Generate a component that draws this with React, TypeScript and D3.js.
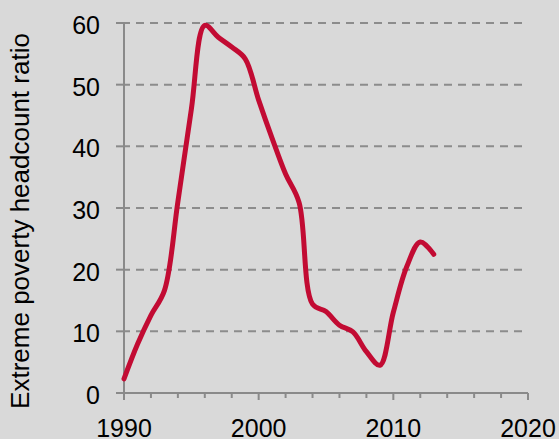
import * as d3 from "d3";

// values
const years = [
  1990, 1991, 1992, 1993, 1994, 1995, 1996, 1997, 1998, 1999, 2000, 2001,
  2002, 2003, 2004, 2005, 2006, 2007, 2008, 2009, 2010, 2011, 2012, 2013,
];
const ratio = [
  2.3, 7.9, 12.6, 16.6, 31.0, 46.0, 59.6, 57.7, 56.1, 54.2, 47.5, 41.3,
  35.5, 30.9, 14.4, 13.2, 11.0, 9.9, 6.7, 4.5, 13.1, 20.5, 24.5, 22.5,
];
const yTicks = [0, 10, 20, 30, 40, 50, 60];
const xMajorTicks = [1990, 2000, 2010, 2020];
const xMinorTicks = d3.range(1990, 2021, 2);
const yTitle = "Extreme poverty headcount ratio";

const W = 559;
const H = 439;
const font = "'Liberation Sans', Arial, sans-serif";
const axisColor = "#8a8a8a";

export default function App() {
  const x = d3.scaleLinear().domain([1990, 2020]).range([124, 528]);
  const y = d3.scaleLinear().domain([0, 60]).range([393, 23]);

  const points = years.map((yr, i) => ({ yr, v: ratio[i] }));
  const line = d3
    .line<{ yr: number; v: number }>()
    .x((d) => x(d.yr))
    .y((d) => y(d.v))
    .curve(d3.curveCatmullRom.alpha(0.5));

  return (
    <svg
      width={W}
      height={H}
      style={{ position: "absolute", left: 0, top: 0, display: "block" }}
      fontFamily={font}
    >
      <rect width={W} height={H} fill="#d9d9d9" />

      {/* dashed gridlines */}
      {yTicks
        .filter((t) => t > 0)
        .map((t) => (
          <line
            key={"g" + t}
            x1={x(1990)}
            x2={x(2020)}
            y1={y(t)}
            y2={y(t)}
            stroke="#8c8c8c"
            strokeWidth={2}
            strokeDasharray="8,6"
            strokeDashoffset={2}
          />
        ))}

      {/* y axis */}
      <line x1={x(1990)} x2={x(1990)} y1={y(60) - 1} y2={y(0) + 7} stroke={axisColor} strokeWidth={2} />
      {yTicks.map((t) => (
        <g key={"y" + t}>
          <line x1={x(1990) - 8} x2={x(1990)} y1={y(t)} y2={y(t)} stroke={axisColor} strokeWidth={2} />
          <text
            x={100}
            y={y(t) + 2}
            textAnchor="end"
            dominantBaseline="central"
            fontSize={25}
            fill="#000"
          >
            {t}
          </text>
        </g>
      ))}

      {/* x axis */}
      <line x1={x(1990)} x2={x(2020)} y1={y(0)} y2={y(0)} stroke={axisColor} strokeWidth={2} />
      {xMinorTicks.map((t) => (
        <line
          key={"m" + t}
          x1={x(t)}
          x2={x(t)}
          y1={y(0)}
          y2={y(0) + (xMajorTicks.includes(t) ? 7 : 5)}
          stroke={axisColor}
          strokeWidth={2}
        />
      ))}
      {xMajorTicks.map((t) => (
        <text key={"x" + t} x={x(t)} y={437} textAnchor="middle" fontSize={25} fill="#000">
          {t}
        </text>
      ))}

      {/* y axis title */}
      <text
        transform={`translate(29,221) rotate(-90)`}
        textAnchor="middle"
        fontSize={26}
        fill="#000"
      >
        {yTitle}
      </text>

      {/* series */}
      <path
        d={line(points) ?? ""}
        fill="none"
        stroke="#c20b33"
        strokeWidth={5}
        strokeLinecap="round"
        strokeLinejoin="round"
      />
    </svg>
  );
}
